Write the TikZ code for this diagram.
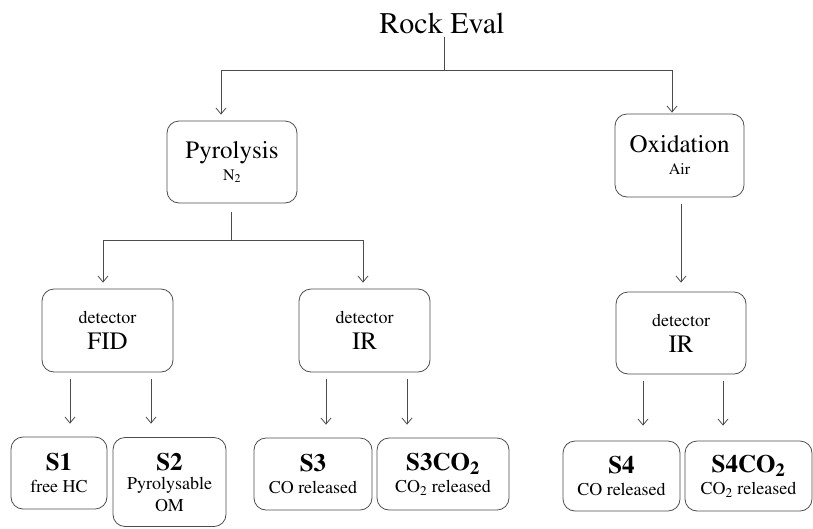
\documentclass[tikz,border=0pt]{standalone}
\usepackage[T1]{fontenc}
\usepackage{mathptmx}
\usetikzlibrary{positioning,arrows.meta}
\newcommand{\bigsize}{\fontsize{25}{30}\selectfont}
\newcommand{\notesize}{\fontsize{16}{18}\selectfont}

\begin{document}
\begin{tikzpicture}[x=1pt,y=-1pt,line width=0.8pt,
    >={Straight Barb[length=6pt,width=10pt]},
    box/.style={draw=black!70,rounded corners=12pt,align=center,
      inner sep=0pt,font=\rmfamily\fontsize{18}{22}\selectfont},
    link/.style={draw=black!70,->}]
  \useasboundingbox (0,0) rectangle (813,528);

  \node[font=\rmfamily\fontsize{30}{36}\selectfont] (rock) at (442,23) {Rock Eval};

  % second row
  \node[box,minimum width=130pt,minimum height=82pt] (pyro) at (232,162)
    {{\bigsize Pyrolysis}\\{\notesize N\textsubscript{2}}};
  \node[box,minimum width=129pt,minimum height=83pt] (oxid) at (679.5,155.5)
    {{\bigsize Oxidation}\\{\notesize Air}};

  % detectors
  \node[box,minimum width=131pt,minimum height=83pt] (fid) at (107.5,330.5)
    {detector\\[4pt]{\bigsize FID}};
  \node[box,minimum width=131pt,minimum height=83pt] (irA) at (364.5,330.5)
    {detector\\[4pt]{\bigsize IR}};
  \node[box,minimum width=130pt,minimum height=82pt] (irB) at (681,333)
    {detector\\[4pt]{\bigsize IR}};

  % peaks
  \node[box,minimum width=96pt,minimum height=72pt] (s1) at (59,473)
    {{\bfseries\bigsize S1}\\free HC};
  \node[box,minimum width=113pt,minimum height=89pt] (s2) at (169.5,482)
    {{\bfseries\bigsize S2}\\[-3pt]Pyrolysable\\OM};
  \node[box,minimum width=118pt,minimum height=72pt] (s3) at (313,474)
    {{\bfseries\bigsize S3}\\CO released};
  \node[box,minimum width=132pt,minimum height=72pt] (s3co) at (443,474)
    {{\bfseries\bigsize S3CO\textsubscript{2}}\\CO\textsubscript{2} released};
  \node[box,minimum width=117pt,minimum height=70pt] (s4) at (621.5,476)
    {{\bfseries\bigsize S4}\\CO released};
  \node[box,minimum width=127pt,minimum height=70pt] (s4co) at (748.5,476)
    {{\bfseries\bigsize S4CO\textsubscript{2}}\\CO\textsubscript{2} released};

  % top split
  \coordinate (split) at (444,70);
  \draw[draw=black!70] (rock.south -| split) -- (split);
  \draw[link,shorten >=6pt] (split) -| ([xshift=-11pt]pyro.north);
  \draw[link,shorten >=1pt] (split) -| ([xshift=-7.5pt]oxid.north);

  % pyrolysis split
  \coordinate (pyrosplit) at (231,240);
  \draw[draw=black!70,shorten <=9pt] (pyro.south -| pyrosplit) -- (pyrosplit);
  \draw[link,shorten >=6pt] (pyrosplit) -| ([xshift=-4.5pt]fid.north);
  \draw[link,shorten >=6pt] (pyrosplit) -| ([xshift=-1.5pt]irA.north);

  \draw[link,shorten <=7pt,shorten >=9pt] ([xshift=1.5pt]oxid.south)
    -- ([xshift=1.5pt]oxid.south |- irB.north);

  % detector outputs
  \draw[link,shorten <=7pt,shorten >=13pt] ([xshift=-37.5pt]fid.south)
    -- ([xshift=-37.5pt]fid.south |- s1.north);
  \draw[link,shorten <=7pt,shorten >=13pt] ([xshift=43.5pt]fid.south)
    -- ([xshift=43.5pt]fid.south |- s1.north);
  \draw[link,shorten <=7pt,shorten >=13pt] ([xshift=-38.5pt]irA.south)
    -- ([xshift=-38.5pt]irA.south |- s3.north);
  \draw[link,shorten <=7pt,shorten >=13pt] ([xshift=42.5pt]irA.south)
    -- ([xshift=42.5pt]irA.south |- s3co.north);
  \draw[link,shorten <=7pt,shorten >=15pt] ([xshift=-38pt]irB.south)
    -- ([xshift=-38pt]irB.south |- s4.north);
  \draw[link,shorten <=7pt,shorten >=15pt] ([xshift=42pt]irB.south)
    -- ([xshift=42pt]irB.south |- s4co.north);
\end{tikzpicture}
\end{document}
